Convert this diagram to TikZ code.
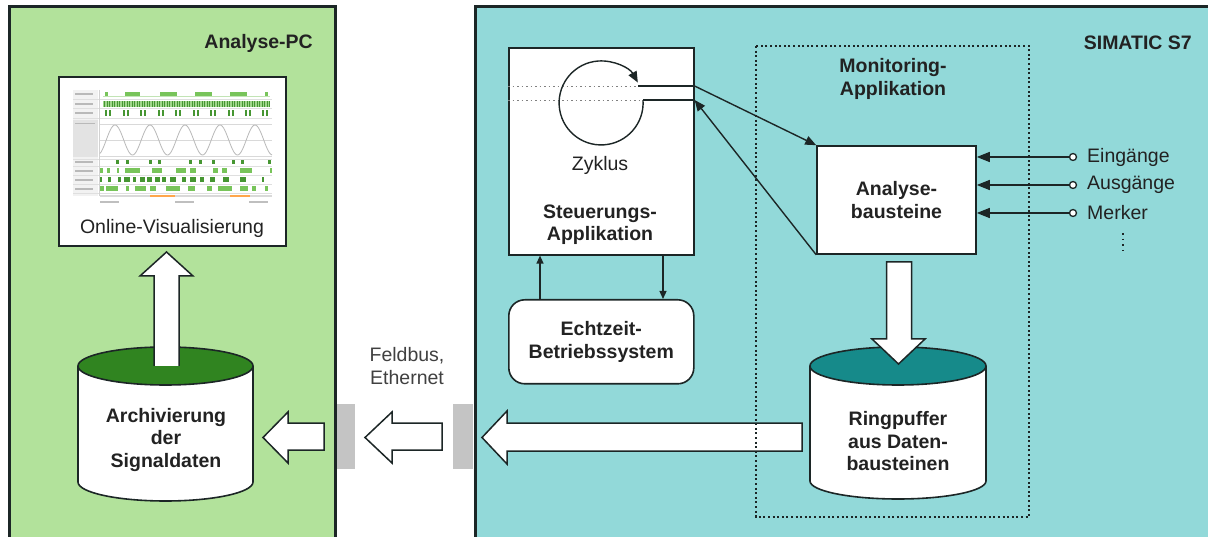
\documentclass[tikz,border=0pt]{standalone}
\usepackage{fontspec}
\setmainfont{Liberation Sans}
\usetikzlibrary{arrows.meta}
\definecolor{pcgreen}{RGB}{178,226,155}
\definecolor{plcblue}{RGB}{146,217,217}
\definecolor{dkgreen}{RGB}{48,132,32}
\definecolor{dkteal}{RGB}{22,138,138}
\definecolor{ln}{RGB}{28,38,38}
\definecolor{txt}{RGB}{34,34,34}
\definecolor{conn}{RGB}{196,196,196}
\definecolor{chgreen}{RGB}{120,196,90}
\definecolor{chdark}{RGB}{70,150,50}
\tikzset{
  lbl/.style={font=\fontsize{19.5}{22.5}\selectfont, align=center, inner sep=0pt, text=txt},
  blbl/.style={lbl, font=\fontsize{19.5}{22.5}\selectfont\bfseries},
  panel/.style={draw=ln, line width=2.8pt, anchor=north west, inner sep=0pt},
  box/.style={draw=ln, line width=1.6pt, fill=white, inner sep=0pt},
  arr/.style={draw=ln, line width=1.4pt, -{Triangle[length=11pt,width=9pt]}},
  iarr/.style={draw=ln, line width=1.5pt, -{Triangle[length=13pt,width=10pt]}},
  sarr/.style={draw=ln, line width=1.3pt, -{Triangle[length=8pt,width=7pt]}},
  hollow/.style={draw=ln, line width=1.5pt, fill=white, line join=miter},
  cyl/.style={draw=ln, line width=1.6pt},
  dotline/.style={draw=gray, line width=0.9pt, dash pattern=on 1.5pt off 3pt},
  port/.style={circle, draw=ln, fill=white, line width=1.3pt, minimum size=7pt, inner sep=0pt},
}
\begin{document}
\begin{tikzpicture}[x=1pt,y=-1pt]
\useasboundingbox (0,0) rectangle (1208,537);
\fill[white] (0,0) rectangle (1208,537);
% panels
\node[panel, fill=pcgreen, minimum width=326pt, minimum height=560pt] (pc) at (8,5) {};
\node[panel, fill=plcblue, minimum width=760pt, minimum height=560pt] (plc) at (474,5) {};
\node[blbl, anchor=east] (pclbl) at (313,43) {Analyse-PC};
\node[blbl, anchor=east] (plclbl) at (1192,43) {SIMATIC S7};

% ---------- Analyse-PC ----------
\node[box, minimum width=227pt, minimum height=169pt, anchor=north west] (scr) at (58,76) {};
% chart
\fill[gray!10] (73,90) rectangle (98,196);
\fill[gray!22] (73,120) rectangle (98,157);
\foreach \y in {94,104,113,162,171,180,189} { \fill[gray!55] (75,\y-1) rectangle (93,\y+1); }
\fill[gray!55] (75,123) rectangle (95,124.5);
\foreach \y in {99,108.5,118,159,166,175,184,193} { \draw[gray!25, line width=0.5pt] (73,\y) -- (272,\y); }
\draw[gray!35, line width=0.5pt] (99,90) -- (99,196);
\fill[chgreen!45] (103,96) rectangle (270,97.5);
\foreach \a/\b in {105/108,125/140,160/177,195/212,230/247,265/268} { \fill[chgreen] (\a,92) rectangle (\b,96); }
\fill[chgreen!70] (103,101) rectangle (270,107);
\foreach \x in {104,106.5,...,269} { \fill[chdark] (\x,101) rectangle (\x+1,107); }
\foreach \x in {105,123,140,158,175,193,210,228,245,262} { \fill[chdark] (\x,110) rectangle (\x+1.5,116); \fill[chdark] (\x+4,110) rectangle (\x+5.5,116); }
\foreach \y in {124,140,156} { \draw[gray!30, line width=0.5pt] (100,\y) -- (272,\y); }
\draw[gray!55, line width=0.8pt] plot[domain=100:272, samples=150] (\x, {140-15*cos((\x-115)/35*360)});
\foreach \a in {116,126,149,158,189,199,212,232,241,268} { \fill[chdark] (\a,160) rectangle (\a+3,164.5); }
\foreach \a/\b in {100/103,107/110,117/119,125/140,152/162,176/186,190/196,213/218,222/227,240/252,270/272} { \fill[chgreen] (\a,168.5) rectangle (\b,173.5); }
\foreach \a/\b in {100/102,108/111,118/121,124/130,133/136,140/145,147/152,155/160,162/166,170/176,182/186,190/196,200/204,210/215,223/229,240/246,262/264} { \fill[chdark] (\a,177.5) rectangle (\b,182); }
\foreach \a/\b in {100/104,106/118,126/129,135/146,150/156,166/180,188/195,207/212,218/232,240/248,252/256,265/268} { \fill[chgreen] (\a,186.5) rectangle (\b,191.5); }
\fill[gray!30] (100,195) rectangle (272,197);
\fill[orange!70] (150,195) rectangle (175,197.5);
\fill[orange!70] (230,195) rectangle (250,197.5);
\foreach \a in {100,175,249} { \fill[gray!50] (\a,201.5) rectangle (\a+19,203.5); }
\node[lbl] (ov) at (172,228) {Online-Visualisierung};

% archive cylinder
\fill[white] (78,366) -- (78,482) arc[start angle=180, end angle=0, x radius=87.5, y radius=19] -- (253,366) -- cycle;
\draw[cyl] (78,366) -- (78,482) arc[start angle=180, end angle=0, x radius=87.5, y radius=19] -- (253,366);
\draw[cyl, fill=dkgreen] (165.5,366) ellipse[x radius=87.5, y radius=19];
\node[blbl] (arch) at (166,440) {Archivierung\\der\\Signaldaten};
% up arrow
\fill[white] (154,366) -- (154,276) -- (140,276) -- (166.5,252) -- (193,276) -- (179,276) -- (179,366) -- cycle;
\draw[hollow, fill=none] (154,366) -- (154,276) -- (140,276) -- (166.5,252) -- (193,276) -- (179,276) -- (179,366);

% ---------- connection ----------
\fill[conn] (337,404) rectangle (355,469);
\fill[conn] (453,404) rectangle (473,469);
\node[lbl, text=black!75] (fb) at (407,366) {Feldbus,\\Ethernet};
\draw[hollow] (324,423) -- (288,423) -- (288,412) -- (263,437.5) -- (288,463) -- (288,450) -- (324,450) -- cycle;
\draw[hollow] (442,423) -- (392,423) -- (392,412) -- (365,437.5) -- (392,463) -- (392,450) -- (442,450) -- cycle;
\draw[hollow] (802,423) -- (507,423) -- (507,411) -- (482,437.5) -- (507,464) -- (507,451) -- (802,451) -- cycle;

% ---------- SIMATIC S7 ----------
\draw[ln, line width=1.3pt, dash pattern=on 2pt off 2.6pt] (756,46) rectangle (1029,517);
\node[blbl] (mon) at (893,79) {Monitoring-\\Applikation};

\node[box, minimum width=185pt, minimum height=207pt, anchor=north west] (steu) at (508,47) {};
\node[box, blbl, rounded corners=16pt, minimum width=185pt, minimum height=84pt, anchor=north west] (echt) at (508,299) {Echtzeit-\\Betriebssystem};
\node[lbl] (zy) at (600,165) {Zyklus};
\node[blbl] (st) at (600,224.5) {Steuerungs-\\Applikation};
\coordinate (zc) at (601,103);
\coordinate (y86) at (0,86);
\coordinate (y100) at (0,100);
\coordinate (c1) at (638,86);
\coordinate (c2) at (643,100);
\draw[dotline] (steu.west |- y86) -- (c1);
\draw[dotline] (steu.west |- y100) -- (c2);
\draw[ln, line width=1.4pt, -{Triangle[length=11pt,width=9pt]}] (c2) arc[start angle=-4, end angle=331, radius=42];
\draw[ln, line width=1.4pt] (c1) -- (steu.east |- y86);
\draw[ln, line width=1.4pt] (c2) -- (steu.east |- y100);

\coordinate (xa1) at (540,0);
\coordinate (xa2) at (663,0);
\draw[sarr] (echt.north -| xa1) -- (steu.south -| xa1);
\draw[sarr] (steu.south -| xa2) -- (echt.north -| xa2);

\node[box, blbl, minimum width=159pt, minimum height=108pt] (anal) at (896.5,200) {Analyse-\\bausteine};
\draw[arr] (steu.east |- y86) -- (anal.north west);
\draw[arr] (anal.south west) -- (steu.east |- y100);

\foreach \n/\y/\t in {1/157/Eingänge,2/185/Ausgänge,3/213/Merker} {
  \node[port] (p\n) at (1073,\y) {};
  \node[lbl, anchor=west] (l\n) at (1087,\y) {\t};
  \draw[iarr] (p\n) -- (anal.east |- p\n);
}
\coordinate (vd1) at (1123,233);
\coordinate (vd2) at (1123,255);
\draw[ln, line width=1.5pt, dash pattern=on 1.6pt off 4pt] (vd1) -- (vd2);

% ring buffer cylinder
\fill[white] (810,366) -- (810,481) arc[start angle=180, end angle=0, x radius=88, y radius=18] -- (986,366) -- cycle;
\draw[cyl] (810,366) -- (810,481) arc[start angle=180, end angle=0, x radius=88, y radius=18] -- (986,366);
\draw[cyl, fill=dkteal] (898,366) ellipse[x radius=88, y radius=19];
\node[blbl] (ring) at (898,441.5) {Ringpuffer\\aus Daten-\\bausteinen};
\draw[hollow] (886.5,262) -- (886.5,339) -- (872,339) -- (898.5,364) -- (925,339) -- (911.5,339) -- (911.5,262) -- cycle;
\end{tikzpicture}
\end{document}
